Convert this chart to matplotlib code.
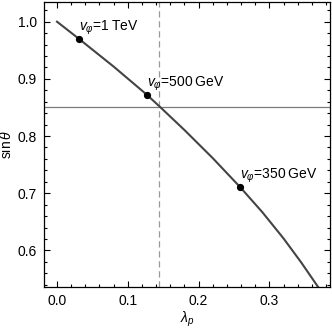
import matplotlib.pyplot as plt
from matplotlib.ticker import MultipleLocator

# curve
lam = [0.0, 0.031, 0.08, 0.1267, 0.1455, 0.18, 0.22, 0.2585, 0.29,
       0.32, 0.345, 0.370, 0.378]
sin_theta = [1.0, 0.970, 0.9215, 0.8725, 0.851, 0.8106, 0.7614, 0.711,
             0.667, 0.621, 0.579, 0.534, 0.519]

# benchmark points
pt_lam = [0.031, 0.1267, 0.2585]
pt_sin = [0.970, 0.872, 0.711]
pt_labels = ["1\u2009TeV", "500\u2009GeV", "350\u2009GeV"]

h_line = 0.851
v_line = 0.1445

plt.rcParams['font.family'] = ['Liberation Sans', 'DejaVu Sans']
plt.rcParams['mathtext.fontset'] = 'custom'
plt.rcParams['mathtext.rm'] = 'Liberation Sans'
plt.rcParams['mathtext.it'] = 'Liberation Sans:italic'
plt.rcParams['mathtext.fallback'] = 'stixsans'
plt.rcParams['font.size'] = 10


def plot():
    fig = plt.figure(figsize=(3.32, 3.28), dpi=100)
    ax = fig.add_axes([0.1325, 0.125, 0.8615, 0.869])
    ax.axhline(h_line, color="#7a7a7a", lw=0.9)
    ax.axvline(v_line, color="#999999", lw=0.9, ls=(0, (5, 3)))
    ax.plot(lam, sin_theta, color="#444444", lw=1.5)
    ax.plot(pt_lam, pt_sin, "o", color="black", ms=4.2)
    for x, y, s in zip(pt_lam, pt_sin, pt_labels):
        ax.annotate(r"$v_\varphi$=" + s, (x, y), xytext=(0, 1.5),
                    textcoords="offset points", ha="left", va="bottom",
                    fontsize=10)
    ax.set_xlim(-0.0184, 0.3857)
    ax.set_ylim(0.536, 1.0345)
    ax.xaxis.set_major_locator(MultipleLocator(0.1))
    ax.xaxis.set_minor_locator(MultipleLocator(0.02))
    ax.yaxis.set_major_locator(MultipleLocator(0.1))
    ax.yaxis.set_minor_locator(MultipleLocator(0.02))
    ax.tick_params(which="both", direction="in", top=True, right=True,
                   width=0.8)
    ax.tick_params(which="major", length=4, pad=5)
    ax.tick_params(which="minor", length=2)
    for sp in ax.spines.values():
        sp.set_linewidth(0.9)
    ax.set_xlabel(r"$\lambda_p$", labelpad=1)
    ax.set_ylabel(r"$\sin\theta$", labelpad=3)
    fig.savefig("out.png", dpi=100)
    return fig, ax


if __name__ == '__main__':
    plot()
